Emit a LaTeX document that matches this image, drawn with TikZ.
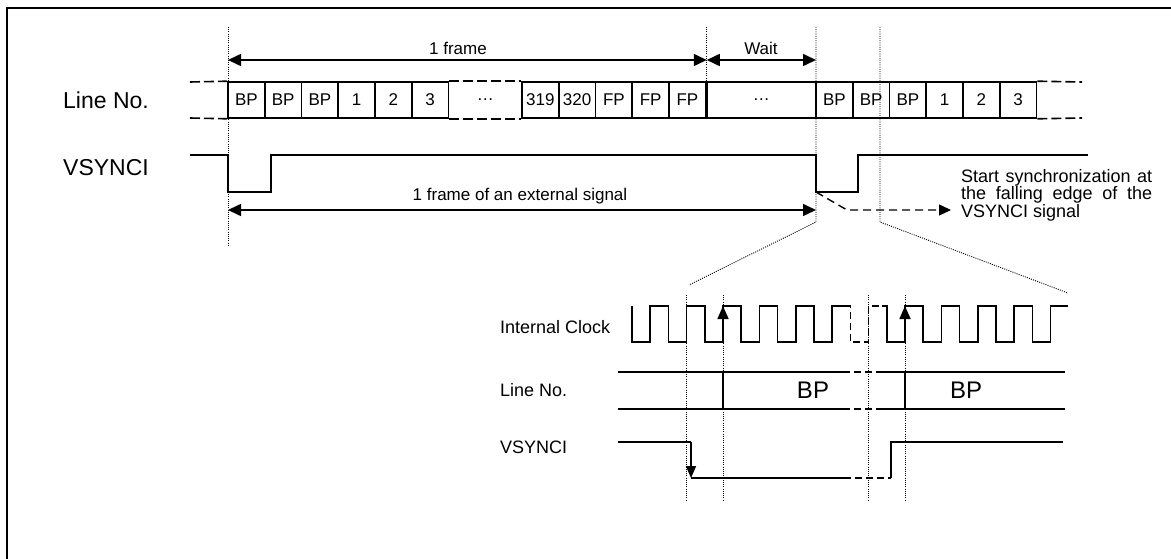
\documentclass[tikz,border=0pt]{standalone}
\usepackage{fontspec}
\setmainfont{Liberation Sans}
\setsansfont{Liberation Sans}
\usetikzlibrary{arrows.meta}

\tikzset{
  cell/.style={draw, line width=1.6pt, minimum width=36.75pt, minimum height=36pt,
    inner sep=0pt, font=\fontsize{17}{20}\selectfont},
  wave/.style={line width=1.6pt},
  gapline/.style={line width=1.6pt, dash pattern=on 10pt off 4pt},
  brokenwave/.style={line width=1.6pt, dash pattern=on 7pt off 4pt},
  guide/.style={line width=0.9pt, dash pattern=on 1pt off 1.2pt},
  dimline/.style={line width=1.6pt,
    {Triangle[length=13pt,width=12pt]}-{Triangle[length=13pt,width=12pt]}},
  siglabel/.style={anchor=west, inner sep=0pt, font=\fontsize{23}{27}\selectfont},
  zoomlabel/.style={anchor=west, inner sep=0pt, font=\fontsize{18}{21}\selectfont},
  dimlabel/.style={inner sep=0pt, font=\fontsize{17}{20}\selectfont},
}

\begin{document}
\begin{tikzpicture}[x=1pt, y=-1pt]
    \useasboundingbox (0,0) rectangle (1171,559);

    % Frame
    \draw[line width=2pt] (7,559) -- (7,8) -- (1171,8);

    % Signal names
    \node[siglabel] (lineno) at (63,100) {Line No.};
    \node[siglabel] (vsync) at (63,168) {VSYNCI};

    % Line number cells
    \foreach \t [count=\i from 0] in {BP,BP,BP,1,2,3}
        \node[cell] (a\i) at (246.375+36.75*\i,100) {\t};
    \foreach \t [count=\i from 0] in {319,320,FP,FP,FP}
        \node[cell] (b\i) at (540.375+36.75*\i,100) {\t};
    \node[cell, minimum width=109.25pt] (wait) at (761.375,100) {\dots};
    \foreach \t [count=\i from 0] in {BP,BP,BP,1,2,3}
        \node[cell] (c\i) at (834.375+36.75*\i,100) {\t};
    \node[dimlabel] (gapdots) at (485.25,100) {\dots};

    % Open ends of the cell row
    \coordinate (leftT) at (190,82);
    \coordinate (leftB) at (190,118);
    \coordinate (rightT) at (1082,82);
    \coordinate (rightB) at (1082,118);
    \draw[gapline] (leftT) -- (a0.north west);
    \draw[gapline] (leftB) -- (a0.south west);
    \draw[gapline] (a5.north east) -- (b0.north west);
    \draw[gapline] (a5.south east) -- (b0.south west);
    \draw[gapline] (c5.north east) -- (rightT);
    \draw[gapline] (c5.south east) -- (rightB);

    % Guide lines
    \draw[guide] (228,27) -- (228,245);
    \draw[guide] (706.75,27) -- (706.75,82);
    \draw[guide] (816,27) -- (816,222) -- (689,285);
    \draw[guide] (880,27) -- (880,222) -- (1068,293);

    % Frame lengths
    \draw[dimline] (228,60) -- (706.75,60);
    \draw[dimline] (706.75,60) -- (816,60);
    \draw[dimline] (228,210) -- (816,210);
    \node[dimlabel] (oneframe) at (458,48) {1 frame};
    \node[dimlabel] (waitlbl) at (761,48) {Wait};
    \node[dimlabel] (extframe) at (520,196) {1 frame of an external signal};

    % VSYNCI
    \draw[wave] (190,155) -- (228,155) -- (228,192) -- (271,192) -- (271,155)
        -- (816,155) -- (816,192) -- (858,192) -- (858,155) -- (1088,155);

    % Note on the falling edge
    \draw[line width=1.4pt, dash pattern=on 8pt off 5pt,
        -{Triangle[length=12pt,width=11pt]}] (816,192) -- (847,210) -- (951,210);
    \node[anchor=west, inner sep=0pt, align=left,
        font=\fontsize{18}{17.5}\selectfont] (note) at (961,195)
        {\makebox[191pt][s]{Start synchronization at}\\
         \makebox[191pt][s]{the falling edge of the}\\
         VSYNCI signal};

    % Enlarged view
    \node[zoomlabel] (clk) at (500,327) {Internal Clock};
    \node[zoomlabel] (lineno2) at (500,390) {Line No.};
    \node[zoomlabel] (vsync2) at (500,447) {VSYNCI};

    % Clock
    \draw[wave] (632,306) \foreach \k in {0,...,5} {
        -- (632+36.4*\k,306) -- (632+36.4*\k,342)
        -- (650.2+36.4*\k,342) -- (650.2+36.4*\k,306) } -- (845,306);
    \draw[brokenwave] (845,306) -- (850.4,306) -- (850.4,342)
        -- (868.6,342) -- (868.6,306) -- (882,306);
    \draw[wave] (882,306) \foreach \k in {0,...,4} {
        -- (886.8+36.4*\k,306) -- (886.8+36.4*\k,342)
        -- (905+36.4*\k,342) -- (905+36.4*\k,306) } -- (1068,306);
    \draw[wave, -{Triangle[length=13pt,width=11pt]}] (723,342) -- (723,306);
    \draw[wave, -{Triangle[length=13pt,width=11pt]}] (905,342) -- (905,306);

    % Line number
    \draw[wave] (618,372) -- (843,372);
    \draw[wave] (618,409) -- (843,409);
    \draw[brokenwave] (843,372) -- (882,372);
    \draw[brokenwave] (843,409) -- (882,409);
    \draw[wave] (882,372) -- (1065,372);
    \draw[wave] (882,409) -- (1065,409);
    \draw[wave] (723,372) -- (723,409);
    \draw[wave] (905,372) -- (905,409);
    \node[inner sep=0pt, font=\fontsize{24}{28}\selectfont] (bp1) at (813,390) {BP};
    \node[inner sep=0pt, font=\fontsize{24}{28}\selectfont] (bp2) at (966,390) {BP};

    % VSYNCI in detail
    \draw[wave] (618,442) -- (691,442);
    \draw[wave, -{Triangle[length=12pt,width=10pt]}] (691,442) -- (691,478);
    \draw[wave] (691,478) -- (844,478);
    \draw[brokenwave] (844,478) -- (891,478);
    \draw[wave] (891,478) -- (891,442) -- (1063,442);

    % Guide lines of the enlarged view
    \foreach \gx in {686.6,723,868.6,905}
        \draw[guide] (\gx,295) -- (\gx,500);

\end{tikzpicture}
\end{document}
